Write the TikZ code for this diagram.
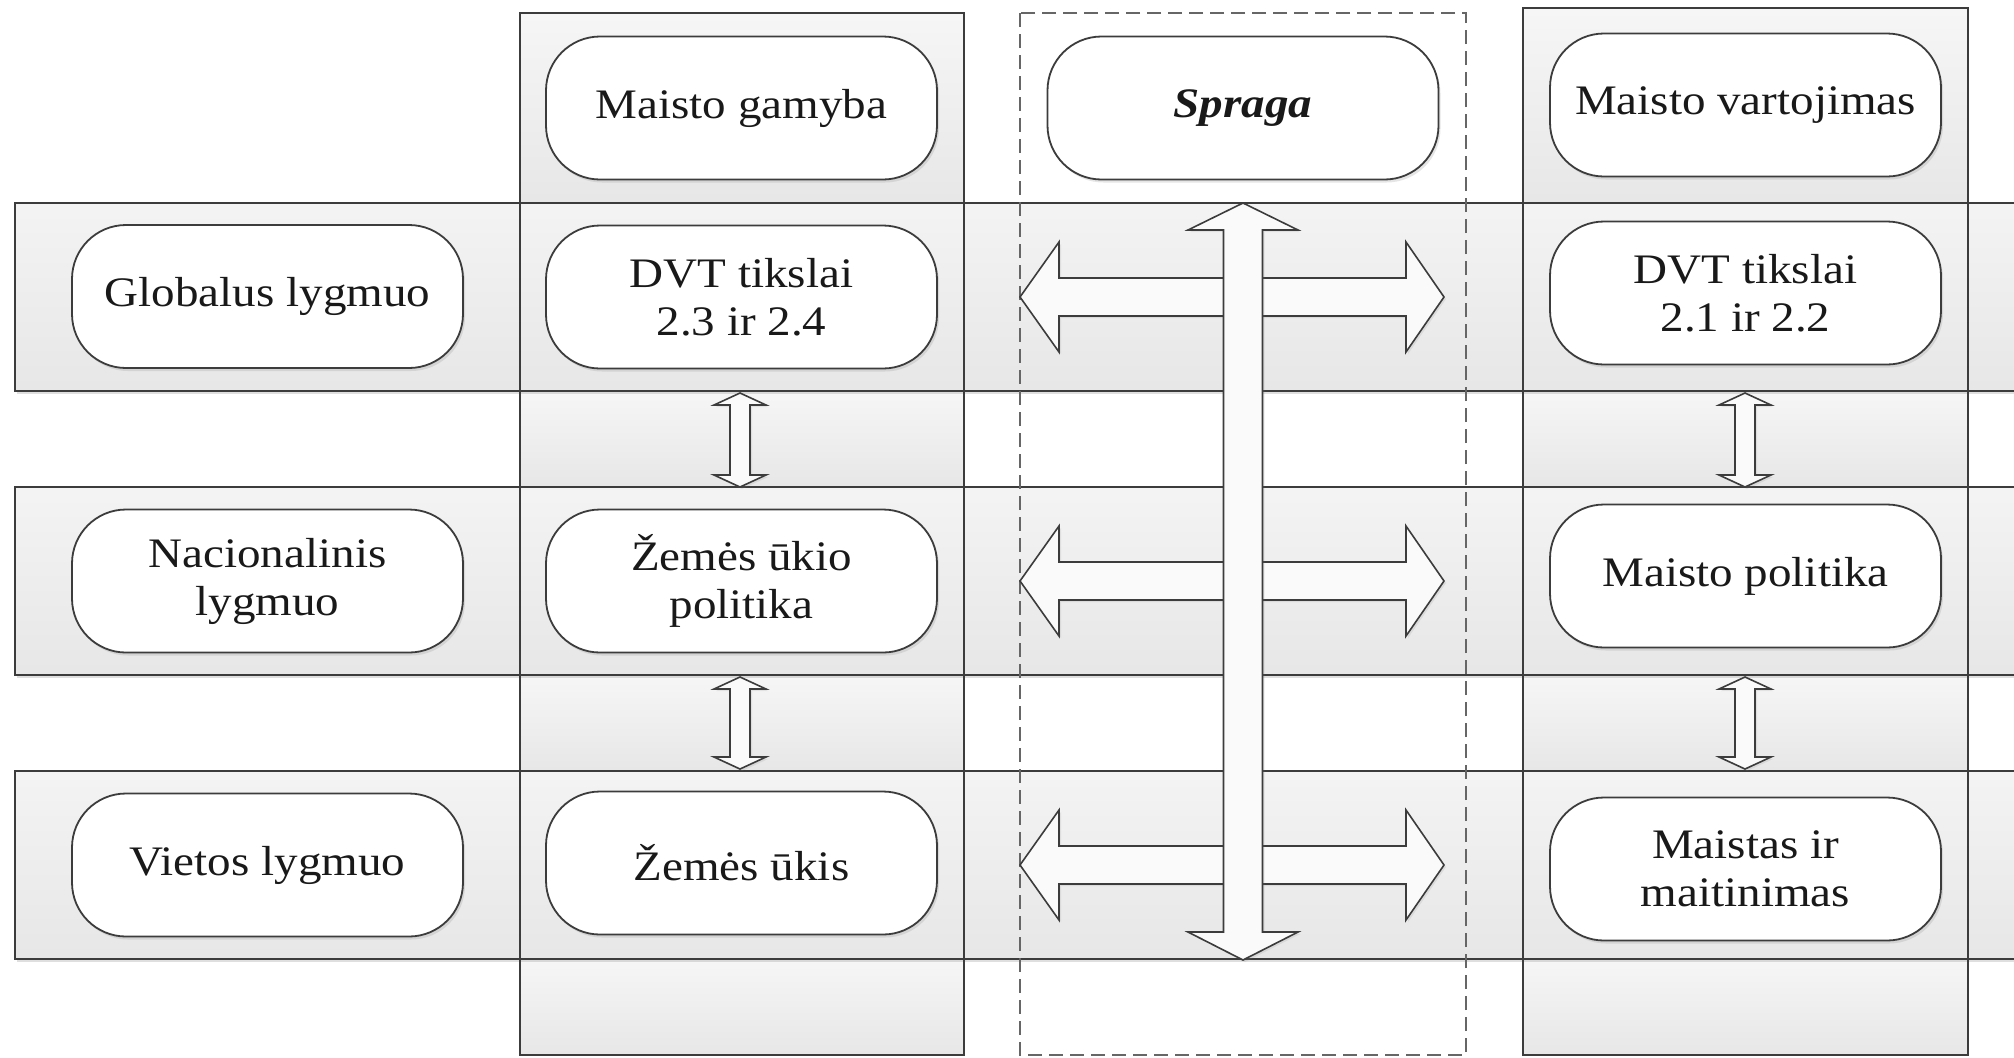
\documentclass[tikz,border=0pt]{standalone}
\usepackage{fontspec}
\setmainfont{Liberation Serif}[FakeStretch=1.12]
\usetikzlibrary{shadows}
\definecolor{edge}{HTML}{3C3C3C}
\definecolor{dashcol}{HTML}{666666}
\newcommand\myHArrow[1]{%
  \begin{scope}[shift={(0,-#1)}]
    \draw[blockarr] (1020,0) -- (1059,55) -- (1059,19) -- (1406,19) -- (1406,55) -- (1444,0)
      -- (1406,-55) -- (1406,-19) -- (1059,-19) -- (1059,-55) -- cycle;
  \end{scope}}
\newcommand\mySmallArrow[3]{% center x, top tip, bottom tip
  \draw[blockarr] (#1,-#2) -- ({#1+26},{-#2-12}) -- ({#1+10},{-#2-12}) -- ({#1+10},{-#3+12})
    -- ({#1+26},{-#3+12}) -- (#1,-#3) -- ({#1-26},{-#3+12}) -- ({#1-10},{-#3+12})
    -- ({#1-10},{-#2-12}) -- ({#1-26},{-#2-12}) -- cycle;}
\begin{document}
\begin{tikzpicture}[x=0.5pt,y=0.5pt,
  cellfill/.style={top color=gray!7, bottom color=gray!19},
  rowband/.style={top color=gray!9, bottom color=gray!19, draw=edge, line width=0.9pt,
    drop shadow={shadow xshift=1pt, shadow yshift=-1.5pt, opacity=0.25}},
  colline/.style={draw=edge, line width=0.9pt},
  pill/.style={draw=edge, line width=0.9pt, fill=white, rounded corners=27pt,
    minimum width=195.5pt, minimum height=71.5pt, inner sep=0pt, align=center,
    font=\fontsize{21}{24}\selectfont, text=black!90,
    drop shadow={shadow xshift=1pt, shadow yshift=-1.5pt, opacity=0.2}},
  blockarr/.style={draw=edge, line width=0.8pt, fill=gray!4, line join=miter,
    drop shadow={shadow xshift=1pt, shadow yshift=-1pt, opacity=0.15}}]
\useasboundingbox (0,0) rectangle (2014,-1057);
\clip (0,0) rectangle (2014,-1057);
\fill[white] (0,0) rectangle (2014,-1057);

% column cells
\foreach \xa/\xb/\ta in {520/964/13, 1523/1968/8}{
  \path[cellfill] (\xa,-\ta) rectangle (\xb,-203);
  \path[cellfill] (\xa,-391) rectangle (\xb,-487);
  \path[cellfill] (\xa,-675) rectangle (\xb,-771);
  \path[cellfill] (\xa,-959) rectangle (\xb,-1055);
}

% rows
\path[rowband] (15,-203) rectangle (2060,-391);
\path[rowband] (15,-487) rectangle (2060,-675);
\path[rowband] (15,-771) rectangle (2060,-959);

% column outlines
\draw[colline] (520,-13) rectangle (964,-1055);
\draw[colline] (1523,-8) rectangle (1968,-1055);

% gap column
\draw[dashcol, line width=1pt, dash pattern=on 7pt off 3.5pt] (1020,-13) rectangle (1466,-1055);

% boxes
\node[pill] (gl) at (267.5,-296.5) {Globalus lygmuo};
\node[pill] (nl) at (267.5,-581) {Nacionalinis\\lygmuo};
\node[pill] (vl) at (267.5,-865) {Vietos lygmuo};

\node[pill] (mg) at (741.5,-108) {Maisto gamyba};
\node[pill] (dvta) at (741.5,-297) {DVT tikslai\\2.3 ir 2.4};
\node[pill] (zup) at (741.5,-581) {Žemės ūkio\\politika};
\node[pill] (zu) at (741.5,-863) {Žemės ūkis};

\node[pill] (sp) at (1243,-108) {\textbf{\textit{Spraga}}};

\node[pill] (mv) at (1745.5,-105) {Maisto vartojimas};
\node[pill] (dvtb) at (1745.5,-293) {DVT tikslai\\2.1 ir 2.2};
\node[pill] (mp) at (1745.5,-576) {Maisto politika};
\node[pill] (mm) at (1745.5,-869) {Maistas ir\\maitinimas};

% horizontal double arrows
\myHArrow{297}
\myHArrow{581}
\myHArrow{865}

% vertical double arrow
\draw[blockarr] (1243,-203) -- (1298,-230) -- (1262.5,-230) -- (1262.5,-932) -- (1298,-932)
  -- (1243,-960) -- (1188,-932) -- (1223.5,-932) -- (1223.5,-230) -- (1188,-230) -- cycle;

% small vertical arrows
\mySmallArrow{740}{393}{487}
\mySmallArrow{740}{677}{769}
\mySmallArrow{1745}{393}{487}
\mySmallArrow{1745}{677}{769}
\end{tikzpicture}
\end{document}
